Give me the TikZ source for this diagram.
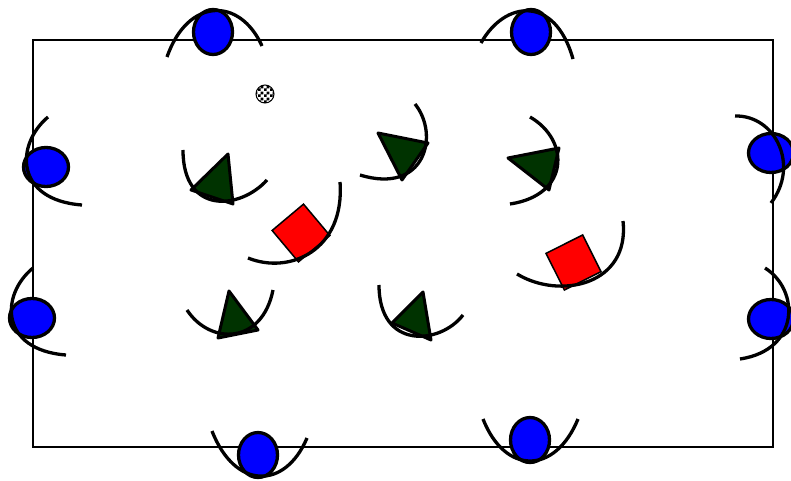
\documentclass[tikz,border=0pt]{standalone}
\usetikzlibrary{shapes.geometric,patterns}
\definecolor{conegreen}{RGB}{0,51,0}
\pgfdeclarepatternformonly{finecheck}{\pgfpointorigin}{\pgfpoint{6pt}{6pt}}{\pgfpoint{6pt}{6pt}}{%
  \pgfpathrectangle{\pgfpointorigin}{\pgfpoint{3pt}{3pt}}%
  \pgfpathrectangle{\pgfpoint{3pt}{3pt}}{\pgfpoint{3pt}{3pt}}%
  \pgfusepath{fill}}
\begin{document}
\begin{tikzpicture}[x=1pt,y=-1pt,
  arcline/.style={line width=3.3pt},
  player/.style={ellipse,draw=black,line width=3.3pt,fill=blue,inner sep=0pt,outer sep=0pt},
  vplayer/.style={player,minimum width=39pt,minimum height=45pt},
  hplayer/.style={player,minimum width=45pt,minimum height=39pt},
  cone/.style={fill=conegreen,draw=black,line width=3pt,line join=round},
  redsq/.style={rectangle,draw=black,line width=1.5pt,fill=red,minimum size=41pt,inner sep=0pt}]
\useasboundingbox (0,0) rectangle (791,481);
\fill[white] (0,0) rectangle (791,481);
% field
\draw[line width=1.5pt] (33,40) rectangle (773,447);
% ball
\node[circle,draw=black,line width=1pt,minimum size=18pt,inner sep=0pt,pattern=finecheck] (ball) at (265,94) {};
% players
\node[vplayer] (t1) at (213,32) {};
\draw[arcline] (167,57) .. controls (188,-3) and (240,-3) .. (262,46);
\node[vplayer] (t2) at (531,32) {};
\draw[arcline] (481,43) .. controls (505,0) and (555,-5) .. (573,59);
\node[hplayer] (l1) at (46,167) {};
\draw[arcline] (48,117) .. controls (15,145) and (15,200) .. (82,205);
\node[hplayer] (l2) at (32,318) {};
\draw[arcline] (33,268) .. controls (0,295) and (0,350) .. (66,355);
\node[hplayer] (r1) at (771,153) {};
\draw[arcline] (735,116) .. controls (775,115) and (800,165) .. (771,203);
\node[hplayer] (r2) at (771,319) {};
\draw[arcline] (765,268) .. controls (800,290) and (800,350) .. (740,359);
\node[vplayer] (b1) at (258,455) {};
\draw[arcline] (212,431) .. controls (235,490) and (285,490) .. (307,438);
\node[vplayer] (b2) at (530,440) {};
\draw[arcline] (483,419) .. controls (505,475) and (555,475) .. (578,419);
% cones
\draw[cone] (191,190) -- (228,154) -- (233,204) -- cycle;
\draw[arcline] (183,150) .. controls (183,215) and (240,210) .. (267,180);
\draw[cone] (378,133) -- (428,143) -- (402,180) -- cycle;
\draw[arcline] (415,104) .. controls (440,135) and (425,195) .. (360,175);
\draw[cone] (508,158) -- (559,148) -- (549,190) -- cycle;
\draw[arcline] (530,117) .. controls (570,140) and (570,195) .. (510,204);
\draw[cone] (218,338) -- (229,291) -- (258,330) -- cycle;
\draw[arcline] (187,310) .. controls (210,345) and (262,345) .. (273,290);
\draw[cone] (392,323) -- (423,292) -- (431,340) -- cycle;
\draw[arcline] (379,285) .. controls (379,350) and (440,345) .. (463,315);
% red squares
\node[redsq,rotate=40] (s1) at (301,233) {};
\draw[arcline] (248,258) .. controls (290,275) and (345,250) .. (340,182);
\node[redsq,rotate=26.6] (s2) at (573.5,262.5) {};
\draw[arcline] (517,274) .. controls (560,300) and (630,285) .. (623,221);
\end{tikzpicture}
\end{document}
